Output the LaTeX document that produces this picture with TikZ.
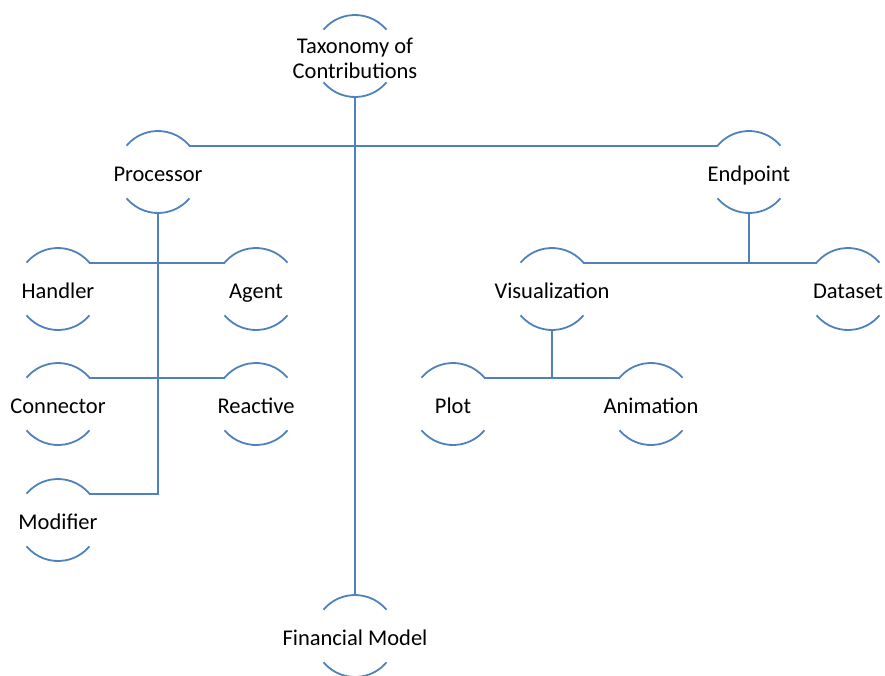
\documentclass[tikz,border=0pt]{standalone}
\usepackage{fontspec}
\setmainfont{Carlito}
\definecolor{linkblue}{HTML}{4F81BD}
\begin{document}
\begin{tikzpicture}[x=1pt,y=1pt,
  itemtext/.style={font=\fontsize{22.5}{25}\selectfont,text=black,align=center,inner sep=0pt},
  item/.style={circle,minimum size=82pt,inner sep=0pt,outer sep=0pt,
    label={[itemtext,text height=15pt,text depth=5pt,yshift=-4pt]center:#1}},
  bigitem/.style={circle,minimum size=82pt,inner sep=0pt,outer sep=0pt,
    label={[itemtext,yshift=-2pt]center:#1}},
  link/.style={draw=linkblue,line width=1.8pt}]
\useasboundingbox (0,0) rectangle (885,-675);

% tree items
\node[bigitem={Taxonomy of\\Contributions}] (root) at (355,-56) {};
\node[item=Processor]       (proc)  at (158,-172) {};
\node[item=Endpoint]        (endp)  at (749,-172) {};
\node[item=Handler]         (hand)  at (58,-289) {};
\node[item=Agent]           (agent) at (256,-289) {};
\node[item=Connector]       (conn)  at (58,-404) {};
\node[item=Reactive]        (react) at (256,-404) {};
\node[item=Modifier]        (mod)   at (58,-520) {};
\node[item=Visualization]   (vis)   at (552,-289) {};
\node[item=Dataset]         (data)  at (848,-289) {};
\node[item=Plot]            (plot)  at (453,-404) {};
\node[item=Animation]       (anim)  at (651,-404) {};
\node[item=Financial Model] (fin)   at (355,-636) {};

% upper and lower arcs of each item
\foreach \n in {root,proc,endp,hand,agent,conn,react,mod,vis,data,plot,anim,fin}
  \draw[link] (\n.40) arc[start angle=40,end angle=140,radius=41pt]
              (\n.220) arc[start angle=220,end angle=320,radius=41pt];

% connectors
\draw[link] (proc.40) -- (endp.140);
\draw[link] (root.south) -- (fin.north);
\draw[link] (proc.south) -- (proc.south |- mod.40) -- (mod.40);
\draw[link] (hand.40) -- (agent.140);
\draw[link] (conn.40) -- (react.140);
\draw[link] (endp.south) -- (endp.south |- vis.40);
\draw[link] (vis.40) -- (data.140);
\draw[link] (vis.south) -- (vis.south |- plot.40);
\draw[link] (plot.40) -- (anim.140);
\end{tikzpicture}
\end{document}
